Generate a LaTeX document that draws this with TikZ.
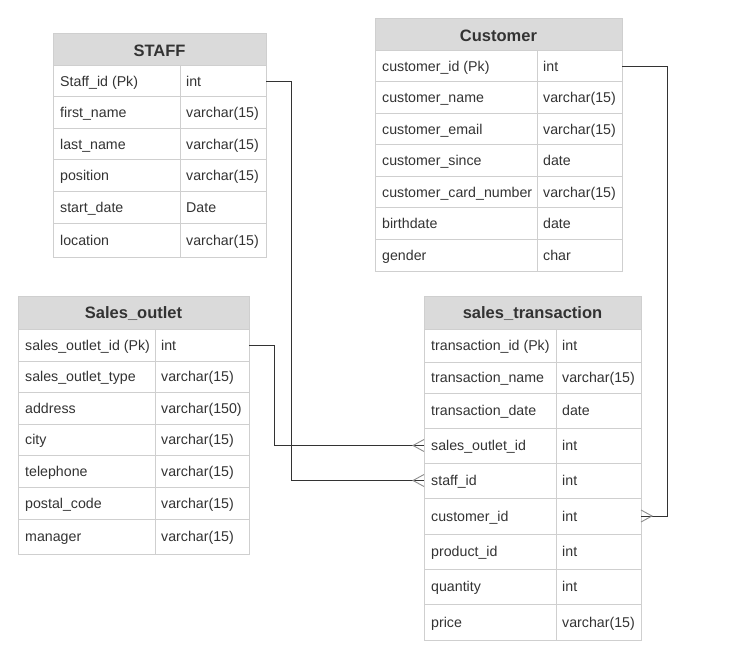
\documentclass[tikz,border=0pt]{standalone}
\usepackage{fontspec}
\setmainfont{Liberation Sans}
\definecolor{hdr}{HTML}{DADADA}
\definecolor{gridc}{HTML}{CFCFCF}
\definecolor{txt}{HTML}{333333}
\definecolor{crowc}{HTML}{8C8C8C}
\tikzset{
  cell/.style={inner sep=0pt, text=txt, font=\fontsize{14.2}{16}\selectfont, text height=10pt, text depth=3pt},
  ttl/.style={inner sep=0pt, text=txt, font=\fontsize{16.5}{19}\selectfont\bfseries},
  gridline/.style={draw=gridc, line width=1pt},
  conn/.style={draw=txt, line width=1pt},
  crow/.style={draw=crowc, line width=0.9pt}
}
\newcommand\erdtable[8]{%
  \fill[hdr] (#2,#5) rectangle (#4,#6);
  \draw[gridline] (#2,#5) rectangle (#4,#6);
  \node[ttl] (#1-h) at ({(#2+#4)/2},{(#5+#6)/2+1}) {#7};
  \foreach \a/\b/\l/\r [count=\i] in {#8} {
    \draw[gridline] (#2,\a) rectangle (#3,\b) (#3,\a) rectangle (#4,\b);
    \node[cell, anchor=west] (#1-\i-l) at (#2+7, {(\a+\b)/2+1.5}) {\l};
    \node[cell, anchor=west] (#1-\i-r) at (#3+6, {(\a+\b)/2+1.5}) {\r};
    \coordinate (#1-\i-W) at (#2,{(\a+\b)/2});
    \coordinate (#1-\i-E) at (#4,{(\a+\b)/2});
  }
}
\begin{document}
\begin{tikzpicture}[x=1pt,y=-1pt]
\useasboundingbox[fill=white] (0,0) rectangle (732,650);

\erdtable{staff}{53}{180}{266}{34}{66}{STAFF}{
  66/97/Staff\_id (Pk)/int,
  97/129/first\_name/varchar(15),
  129/160/last\_name/varchar(15),
  160/192/position/varchar(15),
  192/224/start\_date/Date,
  224/258/location/varchar(15)}

\erdtable{cust}{375}{537}{622}{19}{51}{Customer}{
  51/82/customer\_id (Pk)/int,
  82/114/customer\_name/varchar(15),
  114/145/customer\_email/varchar(15),
  145/177/customer\_since/date,
  177/208/customer\_card\_number/varchar(15),
  208/240/birthdate/date,
  240/272/gender/char}

\erdtable{so}{18}{155}{249}{297}{329}{Sales\_outlet}{
  329/361/sales\_outlet\_id (Pk)/int,
  361/392/sales\_outlet\_type/varchar(15),
  392/424/address/varchar(150),
  424/455/city/varchar(15),
  455/487/telephone/varchar(15),
  487/519/postal\_code/varchar(15),
  519/554/manager/varchar(15)}

\erdtable{st}{424}{556}{641}{297}{329}{sales\_transaction}{
  329/362/transaction\_id (Pk)/int,
  362/393/transaction\_name/varchar(15),
  393/428/transaction\_date/date,
  428/463/sales\_outlet\_id/int,
  463/498/staff\_id/int,
  498/534/customer\_id/int,
  534/569/product\_id/int,
  569/604/quantity/int,
  604/640/price/varchar(15)}

% connectors
\draw[conn] (staff-1-E) -- ++(25,0) |- (st-5-W);
\draw[conn] (so-1-E) -- ++(25,0) |- (st-4-W);
\draw[conn] (cust-1-E) -- ++(45,0) |- (st-6-E);

% crow's feet
\draw[crow] ([yshift=6pt]st-4-W) -- ([xshift=-11pt]st-4-W) -- ([yshift=-6pt]st-4-W);
\draw[crow] ([yshift=6pt]st-5-W) -- ([xshift=-11pt]st-5-W) -- ([yshift=-6pt]st-5-W);
\draw[crow] ([yshift=6pt]st-6-E) -- ([xshift=11pt]st-6-E) -- ([yshift=-6pt]st-6-E);
\end{tikzpicture}
\end{document}
